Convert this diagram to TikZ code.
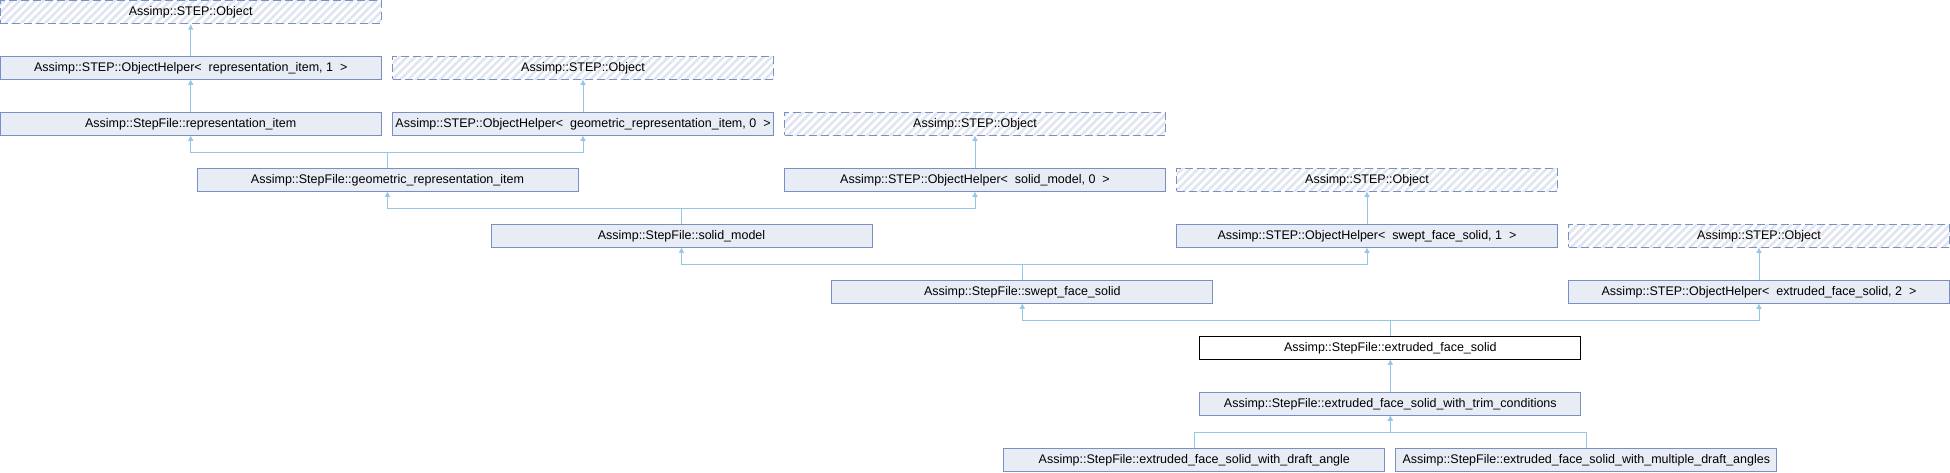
\documentclass[tikz,border=0pt]{standalone}
\usepackage{fontspec}
\setmainfont{Liberation Sans}
\usepackage{tikz}
\usetikzlibrary{arrows.meta}
\usetikzlibrary{patterns.meta}

\definecolor{boxfill}{RGB}{232,236,244}
\definecolor{boxline}{RGB}{122,143,198}
\definecolor{edgeblue}{RGB}{150,200,230}
\definecolor{hatch}{RGB}{224,229,240}

\tikzset{
    box/.style={draw=boxline, fill=boxfill, line width=1pt, minimum width=381pt,
        minimum height=22.6pt, inner sep=0pt, font=\fontsize{12.5}{14}\selectfont},
    extbox/.style={box, dash pattern=on 8pt off 4pt,
        pattern={Lines[angle=45, distance=5.6pt, line width=2.6pt]}, pattern color=hatch},
    thisbox/.style={box, draw=black, fill=white},
    edge/.style={draw=edgeblue, line width=1pt, -{Triangle[length=5pt, width=5pt]}}
}

\begin{document}
\begin{tikzpicture}[x=1pt, y=-1pt]
    \useasboundingbox (0, 0) rectangle (1950, 472);

        \node[extbox] (objRoot) at (190.7, 12) {Assimp::STEP::Object};

        \node[box] (helperRep) at (190.7, 68) {Assimp::STEP::ObjectHelper<\ \ representation\_item, 1\ \ >};
        \node[extbox] (objRep) at (583, 68) {Assimp::STEP::Object};

        \node[box] (repItem) at (190.7, 124) {Assimp::StepFile::representation\_item};
        \node[box] (helperGeom) at (583, 124) {Assimp::STEP::ObjectHelper<\ \ geometric\_representation\_item, 0\ \ >};
        \node[extbox] (objGeom) at (975, 124) {Assimp::STEP::Object};

        \node[box] (geomItem) at (387.5, 180) {Assimp::StepFile::geometric\_representation\_item};
        \node[box] (helperSolid) at (975, 180) {Assimp::STEP::ObjectHelper<\ \ solid\_model, 0\ \ >};
        \node[extbox] (objSolid) at (1367, 180) {Assimp::STEP::Object};

        \node[box] (solidModel) at (681.5, 236) {Assimp::StepFile::solid\_model};
        \node[box] (helperSwept) at (1367, 236) {Assimp::STEP::ObjectHelper<\ \ swept\_face\_solid, 1\ \ >};
        \node[extbox] (objSwept) at (1759, 236) {Assimp::STEP::Object};

        \node[box] (sweptFace) at (1022.3, 292) {Assimp::StepFile::swept\_face\_solid};
        \node[box] (helperExtr) at (1759, 292) {Assimp::STEP::ObjectHelper<\ \ extruded\_face\_solid, 2\ \ >};

        \node[thisbox] (extrFace) at (1390.3, 348) {Assimp::StepFile::extruded\_face\_solid};

        \node[box] (trimCond) at (1390.3, 404) {Assimp::StepFile::extruded\_face\_solid\_with\_trim\_conditions};

        \node[box] (draftAngle) at (1194.3, 460) {Assimp::StepFile::extruded\_face\_solid\_with\_draft\_angle};
        \node[box] (multiDraft) at (1586.3, 460) {Assimp::StepFile::extruded\_face\_solid\_with\_multiple\_draft\_angles};

        \draw[edge] (helperRep.north) -- (objRoot.south);
        \draw[edge] (repItem.north) -- (helperRep.south);
        \draw[edge] (helperGeom.north) -- (objRep.south);
        \draw[edge] (helperSolid.north) -- (objGeom.south);
        \draw[edge] (helperSwept.north) -- (objSolid.south);
        \draw[edge] (helperExtr.north) -- (objSwept.south);

        \draw[edge] (geomItem.north) -- ++(0, -16) -| (repItem.south);
        \draw[edge] (geomItem.north) -- ++(0, -16) -| (helperGeom.south);
        \draw[edge] (solidModel.north) -- ++(0, -16) -| (geomItem.south);
        \draw[edge] (solidModel.north) -- ++(0, -16) -| (helperSolid.south);
        \draw[edge] (sweptFace.north) -- ++(0, -16) -| (solidModel.south);
        \draw[edge] (sweptFace.north) -- ++(0, -16) -| (helperSwept.south);
        \draw[edge] (extrFace.north) -- ++(0, -16) -| (sweptFace.south);
        \draw[edge] (extrFace.north) -- ++(0, -16) -| (helperExtr.south);
        \draw[edge] (trimCond.north) -- (extrFace.south);
        \draw[edge] (draftAngle.north) -- ++(0, -16) -| (trimCond.south);
        \draw[edge] (multiDraft.north) -- ++(0, -16) -| (trimCond.south);
    \end{tikzpicture}
\end{document}
